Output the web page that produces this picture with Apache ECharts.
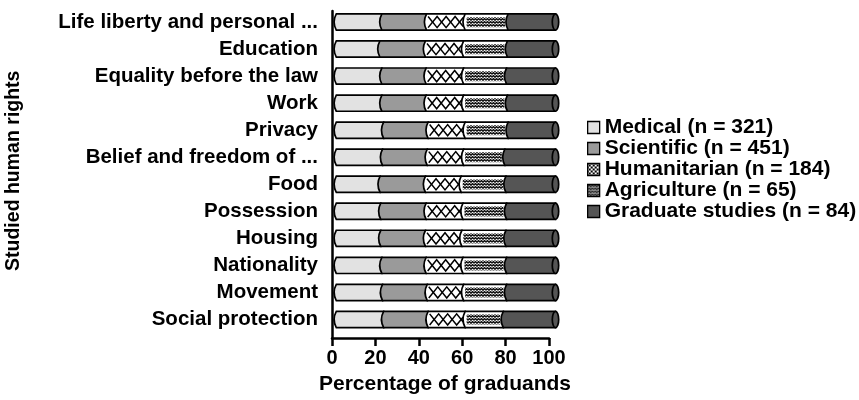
<!DOCTYPE html>
<html>
<head>
<meta charset="utf-8">
<script src="https://cdn.jsdelivr.net/npm/echarts@6/dist/echarts.min.js"></script>
<style>
  html, body { margin: 0; padding: 0; background: #fff; }
  #chart { width: 859px; height: 400px; }
</style>
</head>
<body>
<div id="chart"></div>
<script>
// Studied human rights, share of graduands per faculty (each row sums to 100 %)
const categories = [
  'Life liberty and personal ...', 'Education', 'Equality before the law', 'Work',
  'Privacy', 'Belief and freedom of ...', 'Food', 'Possession', 'Housing',
  'Nationality', 'Movement', 'Social protection'
];
const groupNames = [
  'Medical (n = 321)', 'Scientific (n = 451)', 'Humanitarian (n = 184)',
  'Agriculture (n = 65)', 'Graduate studies (n = 84)'
];
const medical      = [20.8, 19.9, 20.8, 20.8, 21.6, 21.1, 20.0, 20.3, 20.3, 20.8, 21.1, 21.6];
const scientific   = [20.4, 20.8, 20.2, 20.2, 20.3, 20.4, 20.7, 20.7, 20.4, 20.2, 20.4, 20.3];
const humanitarian = [17.6, 17.4, 17.1, 17.1, 16.9, 16.6, 16.3, 16.8, 16.6, 16.8, 16.6, 16.9];
const agriculture  = [19.6, 20.0, 19.6, 20.0, 19.6, 18.8, 20.4, 19.9, 20.1, 19.9, 19.6, 17.4];
const graduate     = [21.6, 21.9, 22.3, 21.9, 21.6, 23.1, 22.6, 22.3, 22.6, 22.3, 22.3, 23.8];
const xTicks = [0, 20, 40, 60, 80, 100];

const FONT = '"Liberation Sans", Arial, Helvetica, sans-serif';

// small canvas fills for the hatched groups
function patternCanvas(kind) {
  const c = document.createElement('canvas');
  const g = c.getContext('2d');
  if (kind === 'cross') {
    c.width = 4; c.height = 4;
    g.fillStyle = '#fff'; g.fillRect(0, 0, 4, 4);
    g.strokeStyle = '#000'; g.lineWidth = 1;
    g.beginPath(); g.moveTo(0, 0); g.lineTo(4, 4); g.moveTo(4, 0); g.lineTo(0, 4); g.stroke();
  } else {
    c.width = 6; c.height = 3;
    g.fillStyle = '#fff'; g.fillRect(0, 0, 6, 3);
    g.strokeStyle = '#111'; g.lineWidth = 1.5;
    g.beginPath();
    g.moveTo(0, 2.2); g.lineTo(1.5, 0.6); g.lineTo(3, 2.2); g.lineTo(4.5, 0.6); g.lineTo(6, 2.2);
    g.stroke();
  }
  return c;
}
const crossFill = { image: patternCanvas('cross'), repeat: 'repeat' };
const waveFill = { image: patternCanvas('wave'), repeat: 'repeat' };

const groups = [
  { name: groupNames[0], values: medical,      kind: 'solid', fill: '#e2e2e2', legendFill: '#e2e2e2' },
  { name: groupNames[1], values: scientific,   kind: 'solid', fill: '#9a9a9a', legendFill: '#9a9a9a' },
  { name: groupNames[2], values: humanitarian, kind: 'cross', fill: '#ffffff', legendFill: crossFill },
  { name: groupNames[3], values: agriculture,  kind: 'wave',  fill: '#ffffff', legendFill: waveFill },
  { name: groupNames[4], values: graduate,     kind: 'solid', fill: '#555555', legendFill: '#555555', last: true }
];

// cumulative start/end of every segment
const starts = categories.map(() => 0);
groups.forEach(gr => {
  gr.data = gr.values.map((v, i) => {
    const s = starts[i];
    starts[i] = s + v;
    return [i, s, s + v];
  });
});

// each segment is a cylinder slice: convex "(" left edge, the last one closed by an elliptic cap
function makeRender(gr) {
  return function (params, api) {
    const cat = api.value(0);
    const a = api.coord([api.value(1), cat]);
    const b = api.coord([api.value(2), cat]);
    const h = api.size([0, 1])[1] * 0.6;
    const cy = a[1], top = cy - h / 2, bot = cy + h / 2;
    const x0 = a[0], x1 = b[0];
    const bulge = 2.2;
    const children = [{
      type: 'path',
      shape: { pathData: 'M' + x0 + ',' + top + ' Q' + (x0 - 2 * bulge) + ',' + cy + ' ' + x0 + ',' + bot +
        ' L' + x1 + ',' + bot + ' L' + x1 + ',' + top + ' Z' },
      style: { fill: gr.fill, stroke: '#000', lineWidth: 1.7 }
    }];
    if (gr.kind === 'cross') {
      const l = x0 + 1.5, r = x1 - 2, t = top + 2.5, bm = bot - 2.5;
      const step = 9;
      const za = [], zb = [];
      let k = 0;
      for (let x = l; x < r; k++, x = l + k * step) {
        za.push([x, k % 2 ? bm : t]);
        zb.push([x, k % 2 ? t : bm]);
      }
      // finish both lines exactly at the right edge
      const xl = l + (k - 1) * step, frac = (r - xl) / step;
      const ya = za[za.length - 1][1], yb = zb[zb.length - 1][1];
      za.push([r, ya + (ya === t ? 1 : -1) * frac * (bm - t)]);
      zb.push([r, yb + (yb === t ? 1 : -1) * frac * (bm - t)]);
      children.push({ type: 'polyline', shape: { points: za }, style: { stroke: '#000', lineWidth: 1.5, fill: null } });
      children.push({ type: 'polyline', shape: { points: zb }, style: { stroke: '#000', lineWidth: 1.5, fill: null } });
    } else if (gr.kind === 'wave') {
      children.push({
        type: 'rect',
        shape: { x: x0 + 1.5, y: top + 3, width: Math.max(0, x1 - x0 - 4.5), height: h - 6 },
        style: { fill: waveFill, stroke: null }
      });
    }
    if (gr.last) {
      children.push({
        type: 'ellipse',
        shape: { cx: x1, cy: cy, rx: 3.2, ry: h / 2 },
        style: { fill: gr.fill, stroke: '#000', lineWidth: 1.7 }
      });
    }
    return { type: 'group', children: children };
  };
}

const chart = echarts.init(document.getElementById('chart'), null, { renderer: 'canvas' });

const option = {
  animation: false,
  backgroundColor: '#fff',
  textStyle: { fontFamily: FONT },
  grid: [
    { left: 332, width: 217, top: 8.5, height: 324.5 },   // bars + category labels
    { left: 332, width: 217, top: 11, height: 327 }       // axis frame with the 0-100 scale
  ],
  xAxis: [
    {
      gridIndex: 0, type: 'value', min: -1.96, max: 97.04, show: false
    },
    {
      gridIndex: 1, type: 'value', min: xTicks[0], max: xTicks[xTicks.length - 1], interval: 20,
      position: 'bottom',
      axisLine: { show: true, lineStyle: { color: '#000', width: 2.5 } },
      axisTick: { show: true, length: 8, lineStyle: { color: '#000', width: 2.5 } },
      axisLabel: { color: '#000', fontSize: 20, fontWeight: 'bold', fontFamily: FONT, margin: 10 },
      splitLine: { show: false },
      name: 'Percentage of graduands', nameLocation: 'middle', nameGap: 36,
      nameTextStyle: { color: '#000', fontSize: 21, fontWeight: 'bold', fontFamily: FONT, padding: [0, 0, 0, 9] }
    }
  ],
  yAxis: [
    {
      gridIndex: 0, type: 'category', data: categories, inverse: true,
      axisLine: { show: false }, axisTick: { show: false },
      axisLabel: { interval: 0, color: '#000', fontSize: 20.5, fontWeight: 'bold', fontFamily: FONT, margin: 14 },
      name: 'Studied human rights', nameLocation: 'middle', nameGap: 308, nameRotate: 90,
      nameTextStyle: { color: '#000', fontSize: 19.5, fontWeight: 'bold', fontFamily: FONT }
    },
    {
      gridIndex: 1, type: 'value', min: 0, max: 1, position: 'left',
      axisLine: { show: true, lineStyle: { color: '#000', width: 2.5 } },
      axisTick: { show: false }, axisLabel: { show: false }, splitLine: { show: false }
    }
  ],
  legend: {
    orient: 'vertical', left: 582, top: 112,
    icon: 'rect', itemWidth: 12, itemHeight: 12, itemGap: 0,
    textStyle: { color: '#000', fontSize: 21, fontWeight: 'bold', fontFamily: FONT, lineHeight: 21 },
    data: groups.map(gr => ({
      name: gr.name,
      itemStyle: { color: gr.legendFill, borderColor: '#000', borderWidth: 1.3 }
    }))
  },
  series: groups.map(gr => ({
    type: 'custom',
    name: gr.name,
    xAxisIndex: 0, yAxisIndex: 0,
    itemStyle: { color: gr.legendFill },
    encode: { x: [1, 2], y: 0 },
    renderItem: makeRender(gr),
    data: gr.data
  }))
};

chart.setOption(option);
</script>
</body>
</html>
